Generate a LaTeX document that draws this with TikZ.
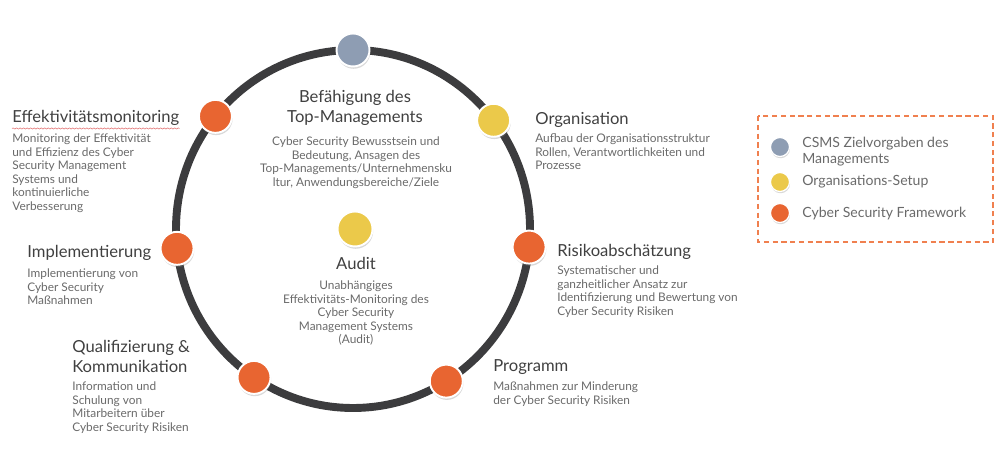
\documentclass[tikz,border=0pt]{standalone}
\usepackage{fontspec}
\setmainfont{Lato}
\usetikzlibrary{shadows,decorations.pathmorphing}
\definecolor{ringgray}{HTML}{3C3C3E}
\definecolor{dotblue}{HTML}{8E9DB3}
\definecolor{dotyellow}{HTML}{EBC94A}
\definecolor{dotorange}{HTML}{E86531}
\definecolor{titlegray}{HTML}{404040}
\definecolor{bodygray}{HTML}{6A6A6A}
\definecolor{legendorange}{HTML}{F0804F}
\definecolor{spellred}{HTML}{E06A6A}
\newcommand{\titlesize}{\fontsize{9.45}{11.6}\selectfont}
\newcommand{\bodysize}{\fontsize{6.75}{7.7}\selectfont}
\newcommand{\legendsize}{\fontsize{8}{9.1}\selectfont}
\tikzset{
  ring/.style={draw=ringgray, line width=4.5pt},
  dot/.style={
    circle,
    fill=#1,
    draw=white,
    line width=1.1pt,
    minimum size=0.66cm,
    inner sep=0pt,
    drop shadow={shadow xshift=0.4pt, shadow yshift=-1.3pt, opacity=0.3}
  },
  legenddot/.style={
    circle,
    fill=#1,
    draw=white,
    line width=0.7pt,
    minimum size=0.38cm,
    inner sep=0pt,
    drop shadow={shadow xshift=0.3pt, shadow yshift=-1pt, opacity=0.3}
  },
  heading/.style={font=\titlesize, text=titlegray, inner sep=0pt},
  body/.style={font=\bodysize, text=bodygray, inner sep=0pt, align=left},
  legendtext/.style={font=\legendsize, text=bodygray, inner sep=0pt, align=left},
  legendbox/.style={draw=legendorange, line width=0.8pt, dash pattern=on 3pt off 2pt}
}

\begin{document}
\begin{tikzpicture}[x=0.02cm, y=0.02cm]
  \useasboundingbox (0,0) rectangle (1000,449);

  % ring with the seven phases
  \coordinate (C) at (353,220);
  \draw[ring] (C) ellipse[x radius=177, y radius=179];
  \foreach \ang/\col/\name in {90/dotblue/dTop, 37.4/dotyellow/dOrg, -5.8/dotorange/dRisk,
      -58.2/dotorange/dProg, 236/dotorange/dQual, 186.2/dotorange/dImpl, 141/dotorange/dEff} {
    \node[dot=\col] (\name) at ([shift={(\ang:177 and 179)}]C) {};
  }
  \node[dot=dotyellow, minimum size=0.7cm] (dAudit) at (355,220) {};

  % headings and descriptions
  \node[heading, anchor=base west] (Teff) at (12,326) {Effektivitätsmonitoring};
  \draw[spellred, line width=0.3pt, decorate, decoration={snake, amplitude=0.35pt, segment length=2pt}]
    ([yshift=-1.2pt]Teff.south west) -- ([yshift=-1.2pt]Teff.south east);
  \node[body, anchor=north west] (Beff) at (12,315.5) {Monitoring der Effektivität\\und Effizienz des Cyber\\Security Management\\Systems und\\kontinuierliche\\Verbesserung};

  \node[heading, anchor=north, align=center] (Tbef) at (355,359) {Befähigung des\\Top-Managements};
  \node[body, anchor=north, align=center] (Bbef) at (356,312.5) {Cyber Security Bewusstsein und\\Bedeutung, Ansagen des\\Top-Managements/Unternehmensku\\ltur, Anwendungsbereiche/Ziele};

  \node[heading, anchor=base west] (Torg) at (535,324) {Organisation};
  \node[body, anchor=north west] (Borg) at (535,315.5) {Aufbau der Organisationsstruktur\\Rollen, Verantwortlichkeiten und\\Prozesse};

  \node[heading, anchor=base west] (Timp) at (27,191) {Implementierung};
  \node[body, anchor=north west] (Bimp) at (27,180.5) {Implementierung von\\Cyber Security\\Maßnahmen};

  \node[heading, anchor=base] (Taud) at (356,179) {Audit};
  \node[body, anchor=north, align=center] (Baud) at (356,168.5) {Unabhängiges\\Effektivitäts-Monitoring des\\Cyber Security\\Management Systems\\(Audit)};

  \node[heading, anchor=base west] (Trisk) at (557,192) {Risikoabschätzung};
  \node[body, anchor=north west] (Brisk) at (557,183.5) {Systematischer und\\ganzheitlicher Ansatz zur\\Identifizierung und Bewertung von\\Cyber Security Risiken};

  \node[heading, anchor=north west, align=left] (Tqual) at (72,109) {Qualifizierung \&\\Kommunikation};
  \node[body, anchor=north west] (Bqual) at (72,67.5) {Information und\\Schulung von\\Mitarbeitern über\\Cyber Security Risiken};

  \node[heading, anchor=base west] (Tprog) at (493,77) {Programm};
  \node[body, anchor=north west] (Bprog) at (493,67.5) {Maßnahmen zur Minderung\\der Cyber Security Risiken};

  % legend
  \draw[legendbox] (758,333) rectangle (993,207);
  \node[legenddot=dotblue] (lTop) at (780,302) {};
  \node[legenddot=dotyellow] (lOrg) at (780,267) {};
  \node[legenddot=dotorange] (lCsf) at (780,236) {};
  \node[legendtext, anchor=north west] (xTop) at (802,312) {CSMS Zielvorgaben des\\Managements};
  \node[legendtext, anchor=base west] (xOrg) at (802,263) {Organisations-Setup};
  \node[legendtext, anchor=base west] (xCsf) at (802,231) {Cyber Security Framework};
\end{tikzpicture}
\end{document}
